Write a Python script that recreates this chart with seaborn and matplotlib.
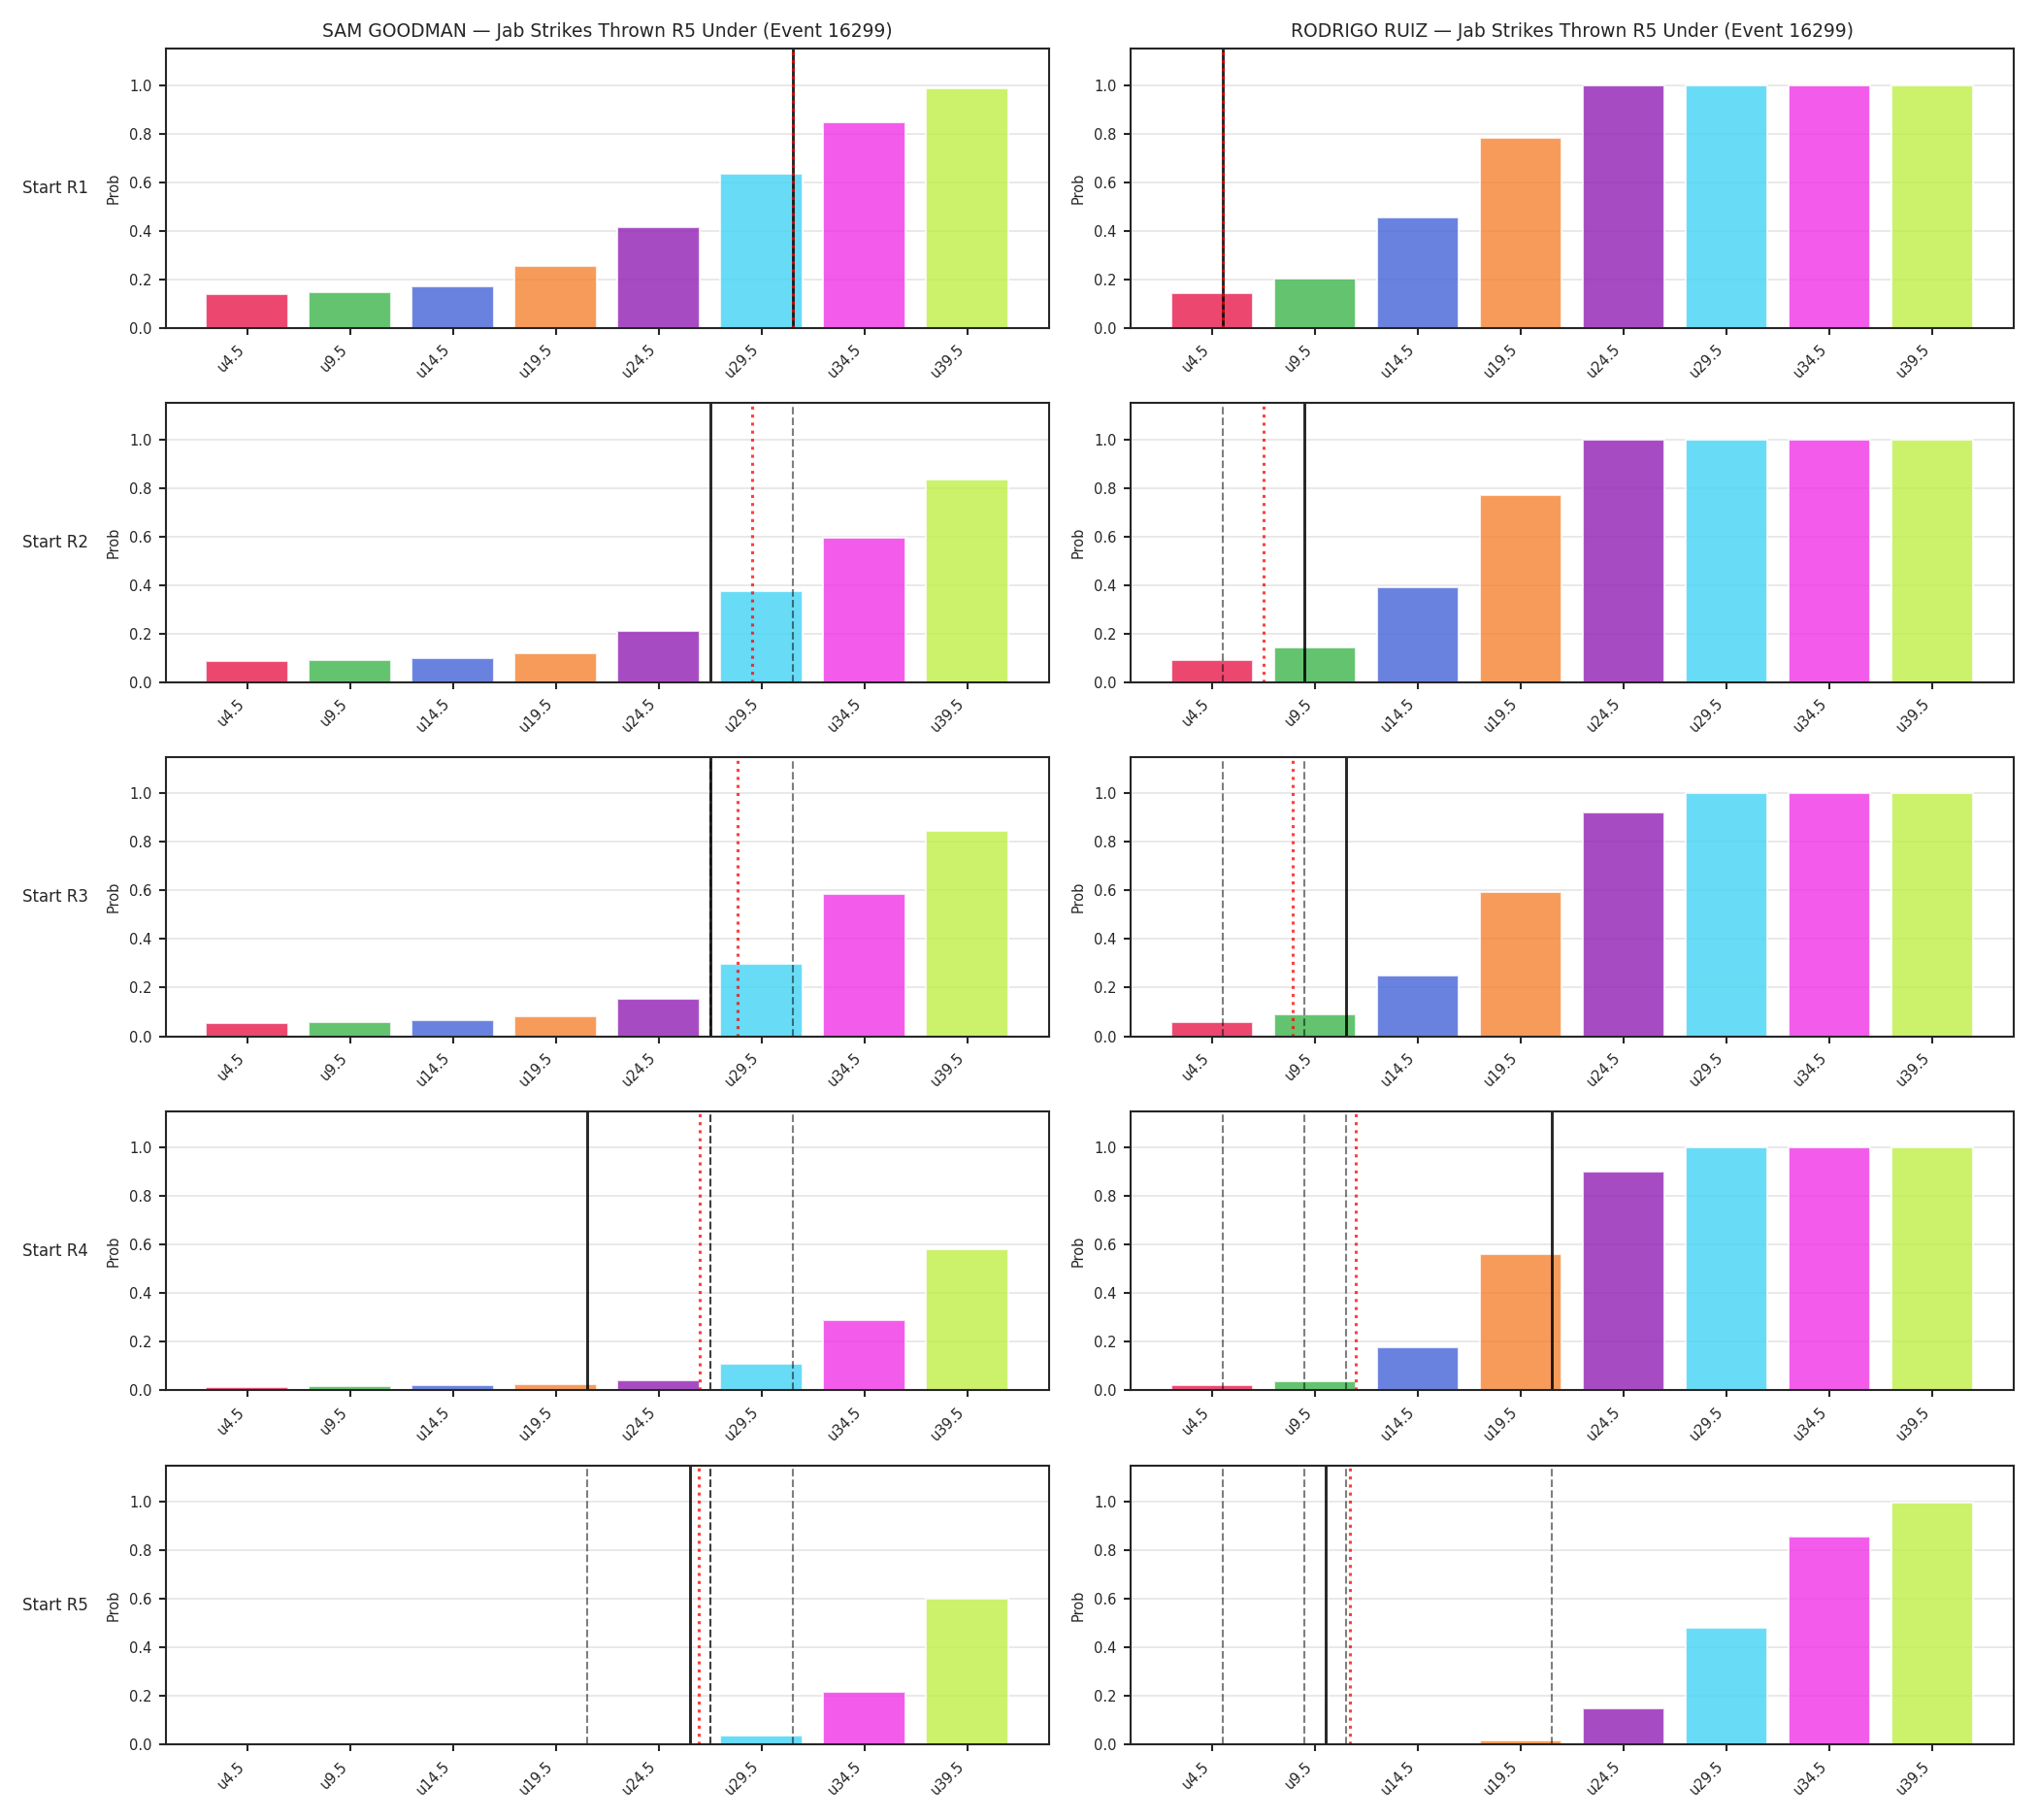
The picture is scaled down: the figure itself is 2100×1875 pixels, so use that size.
import numpy as np
import matplotlib
matplotlib.use("Agg")
import matplotlib.pyplot as plt
import seaborn as sns

# strike thresholds (under lines) and labels
thresholds = [4.5, 9.5, 14.5, 19.5, 24.5, 29.5, 34.5, 39.5]
labels = ["u4.5", "u9.5", "u14.5", "u19.5", "u24.5", "u29.5", "u34.5", "u39.5"]
colors = ["#e6194b", "#3cb44b", "#4363d8", "#f58231", "#911eb4", "#42d4f4", "#f032e6", "#bfef45"]
rounds = ["Start R1", "Start R2", "Start R3", "Start R4", "Start R5"]
fighters = ["SAM GOODMAN", "RODRIGO RUIZ"]
title_tail = " \u2014 Jab Strikes Thrown R5 Under (Event 16299)"

# P(under) per round start
goodman_probs = [
    [0.140, 0.147, 0.171, 0.255, 0.416, 0.636, 0.845, 0.985],
    [0.087, 0.091, 0.100, 0.119, 0.211, 0.376, 0.596, 0.833],
    [0.056, 0.060, 0.067, 0.083, 0.155, 0.299, 0.584, 0.845],
    [0.013, 0.019, 0.023, 0.027, 0.043, 0.111, 0.291, 0.580],
    [0.000, 0.000, 0.000, 0.000, 0.003, 0.037, 0.218, 0.600],
]
ruiz_probs = [
    [0.143, 0.203, 0.456, 0.781, 1.000, 1.000, 1.000, 1.000],
    [0.091, 0.143, 0.392, 0.769, 1.000, 1.000, 1.000, 1.000],
    [0.060, 0.091, 0.249, 0.592, 0.922, 1.000, 1.000, 1.000],
    [0.020, 0.036, 0.176, 0.560, 0.902, 1.000, 1.000, 1.000],
    [0.000, 0.000, 0.000, 0.017, 0.151, 0.483, 0.858, 0.997],
]

# projected line (solid) and expected total (dotted), in strikes
goodman_line = [31, 27, 27, 21, 26]
goodman_mean = [31, 29.05, 28.35, 26.5, 26.45]
ruiz_line = [5, 9, 11, 21, 10]
ruiz_mean = [5, 7.0, 8.4, 11.5, 11.2]

sns.set_style("ticks")
plt.rcParams['font.family'] = ['DejaVu Sans']

fig, axes = plt.subplots(5, 2, figsize=(14, 12.5))
fig.subplots_adjust(left=0.0814, right=0.988, top=0.9733, bottom=0.0414,
                    wspace=0.093, hspace=0.269)

idx = np.arange(len(thresholds))
data = [(goodman_probs, goodman_line, goodman_mean),
        (ruiz_probs, ruiz_line, ruiz_mean)]

for c, (probs, line, mean) in enumerate(data):
    for r in range(5):
        ax = axes[r, c]
        sns.barplot(x=labels, y=probs[r], hue=labels, palette=colors,
                    saturation=1, alpha=0.8, legend=False, ax=ax, width=0.8)
        ax.autoscale(enable=True, axis='x')
        ax.margins(x=0.05)
        ax.autoscale_view()

        # earlier rounds' lines
        for prev in line[:r]:
            ax.axvline(np.interp(prev, thresholds, idx), color='k',
                       linestyle='--', linewidth=1, alpha=0.5)
        ax.axvline(np.interp(line[r], thresholds, idx), color='k',
                   linewidth=1.4, alpha=0.85)
        ax.axvline(np.interp(mean[r], thresholds, idx), color='red',
                   linestyle=':', linewidth=1.5, alpha=0.75)

        ax.set_ylim(0, 1.15)
        ax.set_yticks([0, 0.2, 0.4, 0.6, 0.8, 1.0])
        ax.grid(axis='y', alpha=0.5)
        ax.set_axisbelow(True)
        ax.set_ylabel("Prob", fontsize=7)
        ax.set_xlabel("")
        ax.tick_params(labelsize=7, length=3.5, width=1)
        ax.tick_params(axis='x', labelrotation=45)
        for t in ax.get_xticklabels():
            t.set_ha('right')
        for s in ax.spines.values():
            s.set_linewidth(1.0)
            s.set_visible(True)

        if r == 0:
            ax.set_title(fighters[c] + title_tail, fontsize=9)
        if c == 0:
            ax.annotate(rounds[r], xy=(0, 0.5), xytext=(-ax.yaxis.labelpad - 5, 0),
                        xycoords=ax.yaxis.label, textcoords='offset points',
                        fontsize=8, ha='right', va='center')

fig.savefig("out.png", dpi=150)
